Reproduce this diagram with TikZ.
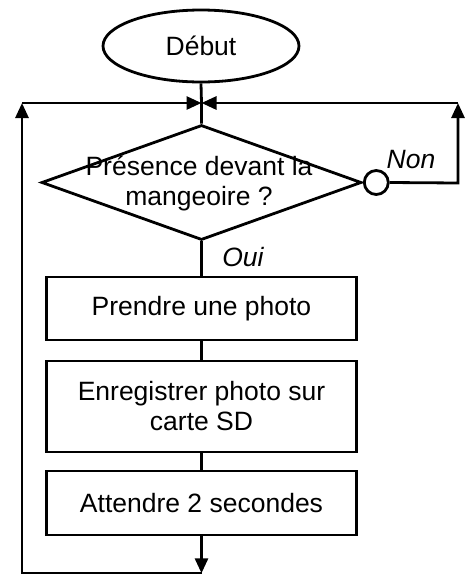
\documentclass[tikz,border=0pt]{standalone}
\usepackage{fontspec}
\setmainfont{Liberation Sans}
\usetikzlibrary{shapes.geometric,arrows.meta}
\begin{document}
\begin{tikzpicture}[x=1pt,y=-1pt,
  every node/.style={font=\fontsize{26.5}{30}\selectfont},
  ln/.style={line width=2.8pt},
  arr/.style={ln,-{Triangle[length=15pt,width=13pt]}},
  procbox/.style={draw,ln,minimum width=310pt,inner sep=0pt,align=center},
  lbl/.style={font=\fontsize{26.5}{30}\selectfont\itshape}]
\useasboundingbox (0,0) rectangle (474,574);
\node[ellipse,draw,ln,minimum width=196pt,minimum height=72pt,inner sep=0pt] (start) at (201,46) {Début};
\node[diamond,draw,ln,minimum width=320pt,minimum height=115pt,inner sep=0pt] (dec) at (201.5,182.5) {};
\node[align=center,inner sep=0pt] (dectext) at (199,183.5) {Présence devant la\\mangeoire ?};
\node[circle,draw,ln,minimum size=24pt,inner sep=0pt,anchor=west] (circ) at (dec.east) {};
\node[procbox,minimum height=63pt] (b1) at (201.5,308.5) {Prendre une photo};
\node[procbox,minimum height=91pt] (b2) at (201.5,406.5) {Enregistrer photo sur\\carte SD};
\node[procbox,minimum height=64pt] (b3) at (201.5,503) {Attendre 2 secondes};
\node[lbl] (non) at (411,160) {Non};
\node[lbl] (oui) at (243,257) {Oui};
\coordinate (J) at (201.5,103);
\coordinate (TL) at (22,103);
\coordinate (BL) at (22,573.3);
\coordinate (B) at (201.5,573.3);
\coordinate (TR) at (458,103);
\coordinate (CR) at (458,183);
\draw[ln] (start.south) -- (J) -- (dec.north);
\draw[ln] (dec.south) -- (b1.north);
\draw[ln] (b1.south) -- (b2.north);
\draw[ln] (b2.south) -- (b3.north);
\draw[arr] (b3.south) -- (B);
\draw[arr] (B) -- (BL) -- (TL);
\draw[arr] (TL) -- (J);
\draw[arr] (circ.east) -- (CR) -- (TR);
\draw[arr] (TR) -- (J);
\end{tikzpicture}
\end{document}
